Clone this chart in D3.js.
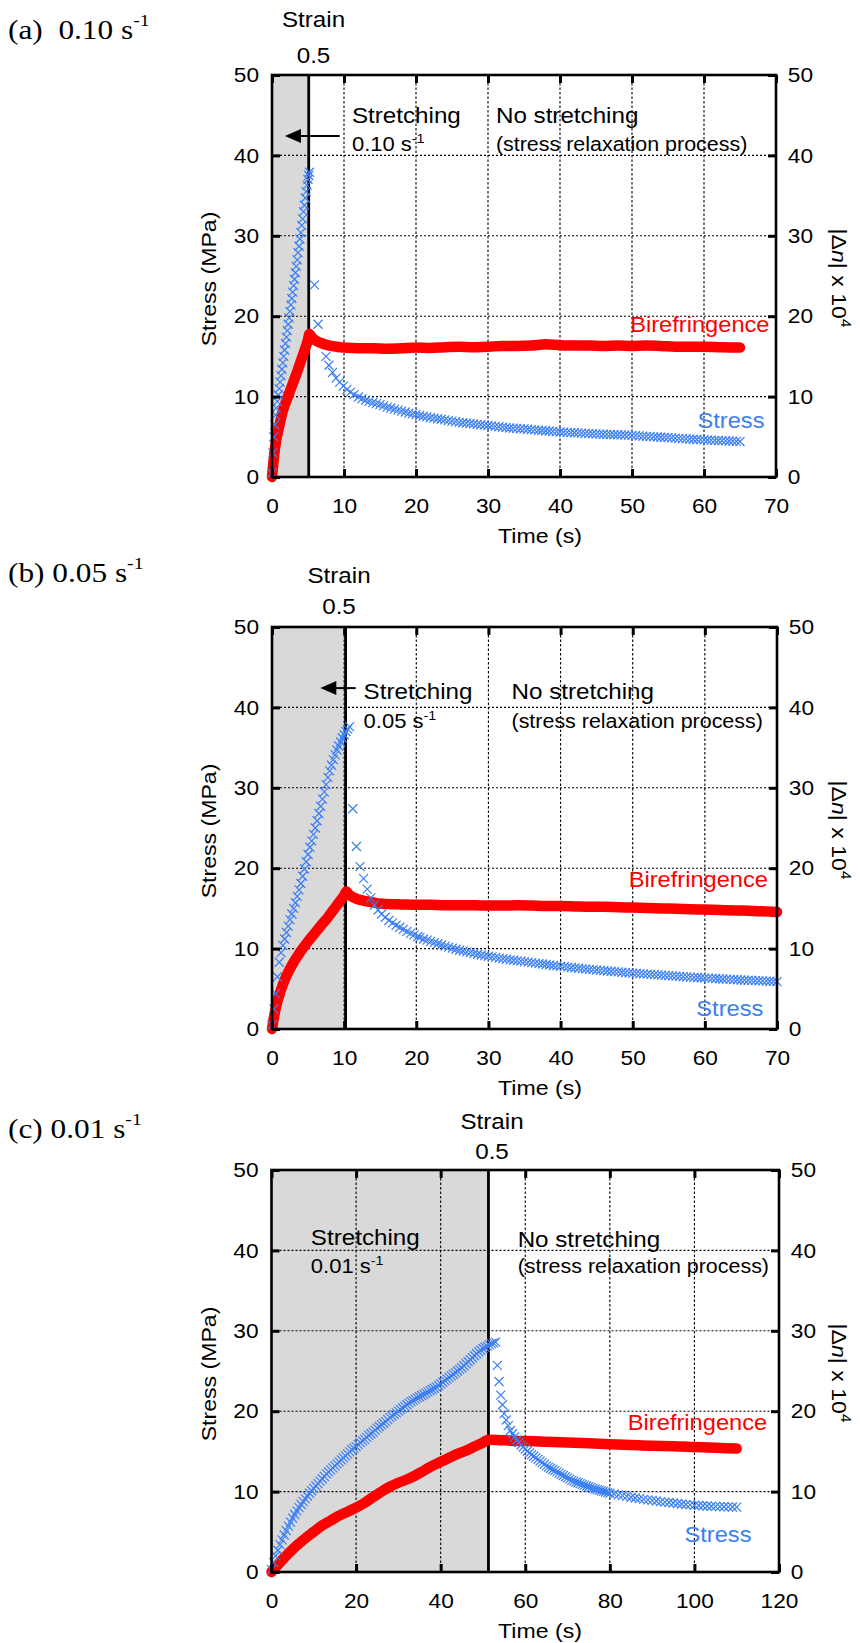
<!DOCTYPE html>
<html>
<head>
<meta charset="utf-8">
<script src="https://cdn.jsdelivr.net/npm/d3@7"></script>
<style>
  body { margin: 0; background: #fff; }
</style>
</head>
<body>
<svg id="fig" width="860" height="1643"></svg>
<script>
// Stress / birefringence during stretching + relaxation, three strain rates

// tick values
const stressTicks = [0, 10, 20, 30, 40, 50];
const timeTicksA = [0, 10, 20, 30, 40, 50, 60, 70];
const timeTicksB = [0, 10, 20, 30, 40, 50, 60, 70];
const timeTicksC = [0, 20, 40, 60, 80, 100, 120];

// (a) 0.10 s-1 : [time (s), stress (MPa)]
const stressA = [[0,0.5],[0.125,3.0],[0.25,5.0],[0.375,6.5],[0.5,7.7],[0.625,8.6],[0.75,9.4],[0.875,10.2],[1.0,11.0],
  [1.125,11.8],[1.25,12.6],[1.375,13.4],[1.5,14.2],[1.625,15.0],[1.75,15.8],[1.875,16.6],[2.0,17.4],[2.125,18.2],
  [2.25,19.0],[2.375,19.8],[2.5,20.6],[2.625,21.4],[2.75,22.2],[2.875,23.0],[3.0,23.8],[3.125,24.6],[3.25,25.4],
  [3.375,26.2],[3.5,27.0],[3.625,27.9],[3.75,28.7],[3.875,29.6],[4.0,30.4],[4.125,31.3],[4.25,32.1],[4.375,33.0],
  [4.5,33.8],[4.625,34.7],[4.75,35.5],[4.875,36.3],[5.0,37.0],[5.1,37.5],[5.2,37.9],
  [5.9,23.9],[6.4,19.0],[7.5,15.0],[7.9,13.9],[8.4,13.0],[8.9,12.3],[9.4,11.8],[9.9,11.3],[10.4,10.9],[10.9,10.55],
  [11.4,10.25],[12,9.95],[12.5,9.75],[13,9.55],[13.5,9.4],[14,9.25],[14.5,9.12],[15,9.0],[15.5,8.85],[16,8.7],
  [16.5,8.58],[17,8.45],[17.5,8.32],[18,8.2],[18.5,8.08],[19,7.95],[19.5,7.85],[20,7.75],[20.5,7.65],[21,7.55],
  [21.5,7.48],[22,7.4],[22.5,7.32],[23,7.25],[23.5,7.18],[24,7.1],[24.5,7.02],[25,6.95],[25.5,6.88],[26,6.8],
  [26.5,6.75],[27,6.7],[27.5,6.65],[28,6.6],[28.5,6.55],[29,6.5],[29.5,6.45],[30,6.4],[30.5,6.35],[31,6.3],
  [31.5,6.25],[32,6.2],[32.5,6.15],[33,6.1],[33.5,6.08],[34,6.05],[34.5,6.0],[35,5.98],[35.5,5.94],[36,5.9],
  [36.5,5.86],[37,5.82],[37.5,5.78],[38,5.75],[38.5,5.72],[39,5.68],[39.5,5.64],[40,5.6],[40.5,5.58],[41,5.55],
  [41.5,5.52],[42,5.5],[42.5,5.48],[43,5.45],[43.5,5.42],[44,5.4],[44.5,5.38],[45,5.36],[45.5,5.34],[46,5.32],
  [46.5,5.3],[47,5.28],[47.5,5.26],[48,5.25],[48.5,5.24],[49,5.22],[49.5,5.2],[50,5.18],[50.5,5.15],[51,5.12],
  [51.5,5.09],[52,5.06],[52.5,5.03],[53,5.0],[53.5,4.98],[54,4.95],[54.5,4.92],[55,4.9],[55.5,4.87],[56,4.84],
  [56.5,4.81],[57,4.78],[57.5,4.75],[58,4.72],[58.5,4.69],[59,4.66],[59.5,4.64],[60,4.62],[60.5,4.6],[61,4.58],
  [61.5,4.56],[62,4.54],[62.5,4.52],[63,4.5],[63.5,4.48],[64,4.46],[64.5,4.44],[65,4.42]];
// [time (s), |dn| x 10^4]
const birefA = [[0,0],[0.4,3.5],[1.0,6.3],[1.5,8.2],[2.0,9.5],[2.5,10.7],[3.0,11.9],[3.5,13.1],[4.0,14.4],[4.5,15.7],
  [5.0,17.1],[5.2,17.8],[5.5,17.4],[6.0,17.0],[7.0,16.6],[8.0,16.35],[9.0,16.2],[10,16.1],[12,16.0],[14,16.0],
  [16,15.95],[18,16.0],[20,16.1],[22,16.05],[24,16.15],[26,16.2],[28,16.15],[30,16.2],[32,16.3],[34,16.3],
  [36,16.35],[38,16.5],[40,16.4],[42,16.35],[44,16.35],[46,16.3],[48,16.35],[50,16.3],[52,16.35],[54,16.3],
  [56,16.2],[58,16.2],[60,16.2],[62,16.15],[64,16.1],[65,16.1]];

// (b) 0.05 s-1
const stressB = [[0,0.5],[0.25,2.5],[0.5,4.4],[0.75,6.5],[1.0,8.3],[1.25,9.5],[1.5,10.4],[1.75,11.2],[2.0,12.0],
  [2.25,12.8],[2.5,13.6],[2.75,14.3],[3.0,15.0],[3.25,15.7],[3.5,16.5],[3.75,17.3],[4.0,18.1],[4.25,19.0],[4.5,19.9],
  [4.75,20.8],[5.0,21.7],[5.25,22.6],[5.5,23.4],[5.75,24.2],[6.0,25.0],[6.25,25.9],[6.5,26.8],[6.75,27.7],[7.0,28.6],
  [7.25,29.5],[7.5,30.4],[7.75,31.3],[8.0,32.1],[8.25,32.8],[8.5,33.5],[8.75,34.1],[9.0,34.7],[9.25,35.2],[9.5,35.7],
  [9.75,36.2],[10.0,36.6],[10.25,37.0],[10.5,37.3],[10.75,37.6],
  [11.2,27.4],[11.7,22.7],[12.2,20.2],[12.7,18.7],[13.2,17.4],[13.7,16.3],[14.2,15.4],[14.7,14.8],[15.2,14.3],
  [15.7,13.9],[16.2,13.5],[16.7,13.2],[17.2,12.9],[17.7,12.65],[18.2,12.4],[18.7,12.15],[19.2,11.9],[19.7,11.7],
  [20.2,11.5],[20.5,11.4],[21,11.2],[21.5,11.05],[22,10.9],[22.5,10.75],[23,10.6],[23.5,10.45],[24,10.3],
  [24.5,10.18],[25,10.05],[25.5,9.92],[26,9.8],[26.5,9.7],[27,9.6],[27.5,9.5],[28,9.4],[28.5,9.3],[29,9.2],
  [29.5,9.12],[30,9.05],[30.5,8.98],[31,8.9],[31.5,8.82],[32,8.75],[32.5,8.68],[33,8.6],[33.5,8.55],[34,8.5],
  [34.5,8.44],[35,8.38],[35.5,8.32],[36,8.26],[36.5,8.2],[37,8.14],[37.5,8.08],[38,8.02],[38.5,7.96],[39,7.9],
  [39.5,7.85],[40,7.8],[40.5,7.75],[41,7.7],[41.5,7.65],[42,7.6],[42.5,7.55],[43,7.5],[43.5,7.46],[44,7.42],
  [44.5,7.38],[45,7.34],[45.5,7.3],[46,7.26],[46.5,7.22],[47,7.18],[47.5,7.14],[48,7.1],[48.5,7.06],[49,7.02],
  [49.5,6.98],[50,6.95],[50.5,6.92],[51,6.88],[51.5,6.85],[52,6.82],[52.5,6.79],[53,6.76],[53.5,6.73],[54,6.7],
  [54.5,6.67],[55,6.64],[55.5,6.61],[56,6.58],[56.5,6.55],[57,6.52],[57.5,6.49],[58,6.46],[58.5,6.43],[59,6.4],
  [59.5,6.38],[60,6.35],[60.5,6.32],[61,6.3],[61.5,6.28],[62,6.25],[62.5,6.22],[63,6.2],[63.5,6.18],[64,6.15],
  [64.5,6.12],[65,6.1],[65.5,6.08],[66,6.06],[66.5,6.04],[67,6.02],[67.5,6.0],[68,5.98],[68.5,5.96],[69,5.94],
  [69.5,5.92],[70,5.9]];
const birefB = [[0,0],[0.3,1.6],[0.6,2.9],[1.0,4.2],[1.5,5.5],[2.0,6.6],[2.5,7.5],[3.0,8.3],[3.5,9.0],[4.0,9.7],
  [4.5,10.3],[5.0,10.9],[5.5,11.45],[6.0,12.0],[6.5,12.55],[7.0,13.1],[7.5,13.6],[8.0,14.2],[8.5,14.8],[9.0,15.4],
  [9.5,16.0],[10.0,16.6],[10.3,17.1],[10.6,16.8],[11,16.5],[12,16.1],[13,15.9],[14,15.75],[15,15.6],[16,15.55],
  [18,15.5],[20,15.45],[22,15.45],[24,15.4],[26,15.4],[28,15.4],[30,15.35],[32,15.35],[34,15.4],[36,15.35],
  [38,15.3],[40,15.3],[42,15.25],[44,15.2],[46,15.2],[48,15.15],[50,15.1],[52,15.05],[54,15.0],[56,14.95],
  [58,14.9],[60,14.85],[62,14.8],[64,14.75],[66,14.7],[68,14.65],[70,14.55]];

// (c) 0.01 s-1
const stressC = [[0,0.3],[0.5,1.2],[1,2.0],[1.5,2.7],[2,3.4],[2.5,4.0],[3,4.6],[3.5,5.15],[4,5.7],[4.5,6.2],[5,6.7],
  [5.5,7.15],[6,7.6],[6.5,8.0],[7,8.4],[7.5,8.75],[8,9.1],[8.5,9.45],[9,9.8],[9.5,10.1],[10,10.4],[10.5,10.7],
  [11,11.0],[11.5,11.3],[12,11.6],[12.5,11.9],[13,12.2],[13.5,12.45],[14,12.7],[14.5,12.95],[15,13.2],[15.5,13.45],
  [16,13.7],[16.5,13.95],[17,14.2],[17.5,14.45],[18,14.7],[18.5,14.95],[19,15.2],[19.5,15.4],[20,15.6],[20.5,15.85],
  [21,16.1],[21.5,16.3],[22,16.5],[22.5,16.75],[23,17.0],[23.5,17.2],[24,17.4],[24.5,17.65],[25,17.9],[25.5,18.1],
  [26,18.3],[26.5,18.5],[27,18.7],[27.5,18.95],[28,19.2],[28.5,19.4],[29,19.6],[29.5,19.8],[30,20.0],[30.5,20.2],
  [31,20.4],[31.5,20.6],[32,20.8],[32.5,21.0],[33,21.2],[33.5,21.35],[34,21.5],[34.5,21.65],[35,21.8],[35.5,21.95],
  [36,22.1],[36.5,22.25],[37,22.4],[37.5,22.55],[38,22.7],[38.5,22.85],[39,23.0],[39.5,23.2],[40,23.4],[40.5,23.6],
  [41,23.8],[41.5,24.0],[42,24.2],[42.5,24.4],[43,24.6],[43.5,24.8],[44,25.0],[44.5,25.2],[45,25.4],[45.5,25.65],
  [46,25.9],[46.5,26.15],[47,26.4],[47.5,26.65],[48,26.9],[48.5,27.15],[49,27.4],[49.5,27.6],[50,27.8],[50.5,27.95],
  [51,28.1],[51.5,28.25],[52,28.4],[52.5,28.5],[53,28.6],
  [53.4,25.7],[53.8,23.7],[54.2,22.0],[54.6,20.8],[55,19.7],[55.5,18.9],[56,18.2],[56.5,17.6],[57,17.2],[57.5,16.8],
  [58,16.4],[58.5,16.1],[59,15.8],[59.5,15.55],[60,15.3],[60.5,15.05],[61,14.8],[61.5,14.6],[62,14.4],[62.5,14.2],
  [63,14.0],[63.5,13.8],[64,13.6],[64.5,13.4],[65,13.2],[65.5,13.05],[66,12.9],[66.5,12.75],[67,12.6],[67.5,12.45],
  [68,12.3],[68.5,12.15],[69,12.0],[69.5,11.85],[70,11.7],[70.5,11.55],[71,11.4],[71.5,11.3],[72,11.2],[72.5,11.1],
  [73,11.0],[73.5,10.9],[74,10.8],[74.5,10.7],[75,10.6],[75.5,10.5],[76,10.4],[76.5,10.32],[77,10.25],[77.5,10.18],
  [78,10.1],[78.5,10.02],[79,9.95],[79.5,9.88],[80,9.8],[81,9.7],[82,9.6],[83,9.5],[84,9.4],[85,9.3],[86,9.2],
  [87,9.12],[88,9.04],[89,8.97],[90,8.9],[91,8.83],[92,8.76],[93,8.7],[94,8.64],[95,8.58],[96,8.52],[97,8.46],
  [98,8.4],[99,8.35],[100,8.3],[101,8.27],[102,8.24],[103,8.21],[104,8.18],[105,8.16],[106,8.14],[107,8.12],
  [108,8.1],[109,8.08],[110,8.06]];
const birefC = [[0,0],[2,1.2],[4,2.3],[6,3.3],[8,4.2],[10,5.0],[12,5.8],[14,6.4],[16,7.0],[18,7.5],[20,8.0],[22,8.6],
  [24,9.3],[26,10.0],[28,10.6],[30,11.1],[32,11.5],[34,12.0],[36,12.6],[38,13.2],[40,13.7],[42,14.2],[44,14.7],
  [46,15.1],[48,15.6],[50,16.1],[51,16.4],[52,16.45],[54,16.4],[56,16.35],[58,16.3],[60,16.3],[65,16.2],[70,16.1],
  [75,16.0],[80,15.9],[85,15.8],[90,15.7],[95,15.65],[100,15.55],[105,15.45],[110,15.35]];

const SANS = '"Liberation Sans", Arial, Helvetica, sans-serif';
const SERIF = '"Liberation Serif", "Times New Roman", serif';
const SX = 1.1;
const BLUE = '#3b7ff2';
const RED = '#ff0000';

const svg = d3.select('#fig');

// text with optional rotation, horizontal stretch and superscript/italic parts
function label(parent, x, y, parts, o = {}) {
  const t = parent.append('text')
    .attr('transform', `translate(${x},${y})${o.rot ? ` rotate(${o.rot})` : ''} scale(${o.sx || SX},1)`)
    .attr('font-family', o.serif ? SERIF : SANS)
    .attr('font-size', o.size || 21)
    .attr('fill', o.color || '#000')
    .attr('text-anchor', o.anchor || 'start')
    .style('white-space', 'pre');
  if (o.dy) t.attr('dy', o.dy);
  (typeof parts === 'string' ? [parts] : parts).forEach(part => {
    const s = typeof part === 'string' ? { t: part } : part;
    const ts = t.append('tspan').text(s.t);
    if (s.sup) ts.attr('font-size', s.sup[0]).attr('dy', -s.sup[1]);
    if (s.italic) ts.attr('font-style', 'italic');
  });
  return t;
}

const panels = [
  { title: '(a)  0.10 s', rate: '0.10 s', xTicks: timeTicksA, stress: stressA, biref: birefA,
    top: 75, bottom: 477, left: 272, right: 776, strainT: 5.1, titleY: 39,
    strainX: 313.5, strainY: [27, 63], arrow: [9.4, 1.8, 42.4],
    stretchAt: [11.1, 44, 40.5], relaxAt: [31.1, 44, 40.5], birefAt: [69.1, 18.0], stressAt: [68.4, 6.1] },
  { title: '(b) 0.05 s', rate: '0.05 s', xTicks: timeTicksB, stress: stressB, biref: birefB,
    top: 627, bottom: 1029, left: 272, right: 777, strainT: 10.2, titleY: 582,
    strainX: 339, strainY: [583, 613.5], arrow: [11.6, 6.7, 42.4],
    stretchAt: [12.7, 41, 37.5], relaxAt: [33.2, 41, 37.5], birefAt: [68.75, 17.6], stressAt: [68.1, 1.6] },
  { title: '(c) 0.01 s', rate: '0.01 s', xTicks: timeTicksC, stress: stressC, biref: birefC,
    top: 1170, bottom: 1572, left: 271.5, right: 779, strainT: 51.3, titleY: 1138,
    strainX: 492, strainY: [1129, 1159], arrow: null,
    stretchAt: [9.3, 40.7, 37.2], relaxAt: [58.2, 40.4, 37.2], birefAt: [117.2, 17.7], stressAt: [113.5, 3.7] }
];

function styleAxis(ax, sx) {
  ax.select('.domain').remove();
  ax.attr('font-size', 21).attr('font-family', SANS);
  ax.selectAll('.tick line').attr('stroke', '#000').attr('stroke-width', 3);
  ax.selectAll('.tick text').attr('fill', '#000').attr('transform', `scale(${sx},1)`);
}

function drawPanel(p) {
  const xMax = p.xTicks[p.xTicks.length - 1];
  const x = d3.scaleLinear().domain([0, xMax]).range([p.left, p.right]);
  const y = d3.scaleLinear().domain([0, 50]).range([p.bottom, p.top]);
  const g = svg.append('g');

  // stretching period
  g.append('rect')
    .attr('x', x(0)).attr('y', y(50))
    .attr('width', x(p.strainT) - x(0)).attr('height', y(0) - y(50))
    .attr('fill', '#d9d9d9');

  // grid
  g.selectAll(null).data(p.xTicks.filter(d => d > 0 && d < xMax)).join('line')
    .attr('x1', d => x(d)).attr('x2', d => x(d)).attr('y1', y(0)).attr('y2', y(50))
    .attr('stroke', '#000').attr('stroke-width', 1.1).attr('stroke-dasharray', '2.5,2');
  g.selectAll(null).data(stressTicks.filter(d => d > 0 && d < 50)).join('line')
    .attr('x1', x(0)).attr('x2', x(xMax)).attr('y1', d => y(d)).attr('y2', d => y(d))
    .attr('stroke', '#000').attr('stroke-width', 1.1).attr('stroke-dasharray', '2,2');

  // strain 0.5 line
  g.append('line')
    .attr('x1', x(p.strainT)).attr('x2', x(p.strainT)).attr('y1', y(0)).attr('y2', y(50))
    .attr('stroke', '#000').attr('stroke-width', 2.8);

  // birefringence (thick red trace)
  g.append('path').datum(p.biref)
    .attr('d', d3.line().curve(d3.curveMonotoneX).x(d => x(d[0])).y(d => y(d[1])))
    .attr('fill', 'none').attr('stroke', RED).attr('stroke-width', 10.5)
    .attr('stroke-linecap', 'round').attr('stroke-linejoin', 'round');

  // stress (x markers)
  g.selectAll(null).data(p.stress).join('path')
    .attr('transform', d => `translate(${x(d[0])},${y(d[1])})`)
    .attr('d', 'M-4.5,-4.5L4.5,4.5M-4.5,4.5L4.5,-4.5')
    .attr('fill', 'none').attr('stroke', BLUE).attr('stroke-width', 1.2);

  // frame
  g.append('rect')
    .attr('x', x(0)).attr('y', y(50))
    .attr('width', x(xMax) - x(0)).attr('height', y(0) - y(50))
    .attr('fill', 'none').attr('stroke', '#000').attr('stroke-width', 2.6);

  // axes, ticks pointing inwards
  const axL = g.append('g').attr('transform', `translate(${x(0)},0)`)
    .call(d3.axisLeft(y).tickValues(stressTicks).tickSizeInner(-8).tickSizeOuter(0).tickPadding(12));
  styleAxis(axL, 1.08);
  const axR = g.append('g').attr('transform', `translate(${x(xMax)},0)`)
    .call(d3.axisRight(y).tickValues(stressTicks).tickSizeInner(-8).tickSizeOuter(0).tickPadding(11));
  styleAxis(axR, 1.08);
  const axB = g.append('g').attr('transform', `translate(0,${y(0)})`)
    .call(d3.axisBottom(x).tickValues(p.xTicks).tickSizeInner(-8).tickSizeOuter(0).tickPadding(21));
  styleAxis(axB, 1.08);
  const axT = g.append('g').attr('transform', `translate(0,${y(50)})`)
    .call(d3.axisTop(x).tickValues(p.xTicks).tickSizeInner(-8).tickSizeOuter(0).tickFormat(''));
  styleAxis(axT, 1.08);

  // axis titles
  const cy = (p.top + p.bottom) / 2;
  label(g, 209, cy + 3, 'Stress (MPa)', { rot: -90, anchor: 'middle', dy: '0.35em', size: 21 });
  label(g, 839, cy + 2, ['|\u0394', { t: 'n', italic: true }, '| x 10', { t: '4', sup: [14, 9] }],
    { rot: 90, anchor: 'middle', dy: '0.35em', size: 21 });
  label(g, 540, p.bottom + 66, 'Time (s)', { anchor: 'middle', size: 21 });

  // panel title and strain marker
  label(svg, 8, p.titleY, [p.title, { t: '-1', sup: [17, 13] }], { serif: true, size: 27, sx: 1.16 });
  label(g, p.strainX, p.strainY[0], 'Strain', { anchor: 'middle', size: 22 });
  label(g, p.strainX, p.strainY[1], '0.5', { anchor: 'middle', size: 22 });

  // arrow pointing into the stretching zone
  if (p.arrow) {
    const [tail, tip, ay] = p.arrow;
    g.append('line')
      .attr('x1', x(tail)).attr('x2', x(tip) + 12).attr('y1', y(ay)).attr('y2', y(ay))
      .attr('stroke', '#000').attr('stroke-width', 2);
    g.append('path')
      .attr('d', `M${x(tip)},${y(ay)}L${x(tip) + 16},${y(ay) - 7}L${x(tip) + 16},${y(ay) + 7}Z`)
      .attr('fill', '#000');
  }

  // annotations
  label(g, x(p.stretchAt[0]), y(p.stretchAt[1]), 'Stretching', { size: 22 });
  label(g, x(p.stretchAt[0]), y(p.stretchAt[2]), [p.rate, { t: '-1', sup: [13, 8] }], { size: 20 });
  label(g, x(p.relaxAt[0]), y(p.relaxAt[1]), 'No stretching', { size: 22 });
  label(g, x(p.relaxAt[0]), y(p.relaxAt[2]), '(stress relaxation process)', { size: 19.5 });
  label(g, x(p.birefAt[0]), y(p.birefAt[1]), 'Birefringence', { anchor: 'end', size: 21.5, color: RED });
  label(g, x(p.stressAt[0]), y(p.stressAt[1]), 'Stress', { anchor: 'end', size: 21.5, color: BLUE });
}

panels.forEach(drawPanel);
</script>
</body>
</html>
